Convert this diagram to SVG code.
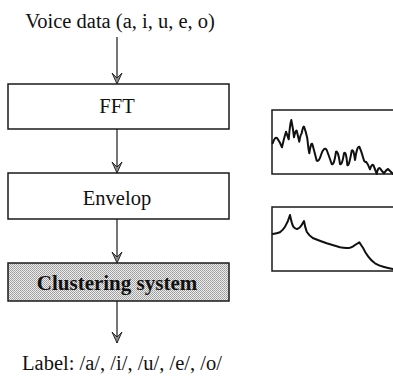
<svg xmlns="http://www.w3.org/2000/svg" width="393" height="376" viewBox="0 0 393 376">
  <defs>
    <style>
      .box { fill: #ffffff; stroke: #1a1a1a; stroke-width: 1.5; }
      .lbl { font-family: "Liberation Serif", "Times New Roman", serif; font-size: 20.5px; fill: #111; text-anchor: middle; }
      .bold { font-weight: bold; }
      .wire { stroke: #1a1a1a; stroke-width: 1.2; fill: none; }
      .plot { fill: #ffffff; stroke: #1a1a1a; stroke-width: 1.5; }
      .curve { fill: none; stroke: #111; stroke-width: 2; stroke-linejoin: round; stroke-linecap: round; }
    </style>
    <pattern id="dither" width="2" height="2" patternUnits="userSpaceOnUse">
      <rect width="2" height="2" fill="#eeeeee"/>
      <rect width="1" height="1" fill="#9a9a9a"/>
      <rect x="1" y="1" width="1" height="1" fill="#a6a6a6"/>
    </pattern>
    <marker id="head" viewBox="-12 -6 13 12" refX="0" refY="0" markerWidth="13" markerHeight="12" markerUnits="userSpaceOnUse" orient="auto">
      <path d="M0,0 L-11,-5 L-6,0 L-11,5 Z" fill="#8c8c8c" stroke="#1a1a1a" stroke-width="0.9" stroke-linejoin="miter"/>
    </marker>
  </defs>

  <!-- input label -->
  <text class="lbl" x="120" y="28">Voice data (a, i, u, e, o)</text>

  <!-- processing chain -->
  <g id="fft">
    <rect class="box" x="8" y="84" width="221" height="45"/>
    <text class="lbl" x="117" y="113">FFT</text>
  </g>
  <g id="envelop">
    <rect class="box" x="8" y="173" width="221" height="46"/>
    <text class="lbl" x="117" y="205">Envelop</text>
  </g>
  <g id="clustering">
    <rect class="box" x="8" y="263" width="221" height="38" style="fill:url(#dither)"/>
    <text class="lbl bold" x="117" y="290" style="font-size:21px">Clustering system</text>
  </g>

  <!-- output label -->
  <text class="lbl" x="122" y="370">Label: /a/, /i/, /u/, /e/, /o/</text>

  <!-- connectors -->
  <g id="connectors">
    <line class="wire" x1="117" y1="37" x2="117" y2="84" marker-end="url(#head)"/>
    <line class="wire" x1="117" y1="129" x2="117" y2="173" marker-end="url(#head)"/>
    <line class="wire" x1="117" y1="219" x2="117" y2="263" marker-end="url(#head)"/>
    <line class="wire" x1="117" y1="301" x2="117" y2="343" marker-end="url(#head)"/>
  </g>

  <!-- spectrum plot -->
  <g id="spectrum">
    <path class="plot" d="M395,110 L272,110 L272,174 L395,174"/>
    <path class="curve" d="M272.7,143.3 Q275,136 277.3,138.3 Q280,142 282,147.3 Q284,138 286,131.7 Q287.5,136 288.7,139.3 Q290,124 291.3,120 Q293,128 294,137.3 Q295.5,130 296.7,130.7 Q298,136 299.3,141.7 Q300.5,134 301.7,133.3 Q303,126 304,126.7 Q306,132 307.3,138.3 Q308.5,150 309.3,153.3 Q311,142 312.3,144 Q314,150 316.7,160.7 Q319,162 321,155 Q324,146 326.7,150 Q329,156 331.7,164 Q334,166 336,151.7 Q338,150 340,164 Q342,166 344,153.3 Q346,150 347.3,165 Q349,167 351.7,150.7 Q353.5,148 355,160 Q357,146 359.3,146.7 Q361,150 363.3,158.3 Q364.5,163 366,161.7 Q368,164 370,169.3 Q371.5,164 373.3,165 Q375,169 376.7,174 Q378,167 380,168.3 Q382,171 384,173.3 Q386,170 388,169 Q390,171 393,174"/>
  </g>

  <!-- envelope plot -->
  <g id="envelope">
    <path class="plot" d="M395,207 L272,207 L272,271 L395,271"/>
    <path class="curve" d="M272.7,234 Q277,233.5 280,232.3 Q283,230 285,226.7 Q288,222 290,215 Q291.5,223 293.3,226.7 Q295.5,229.5 297.3,229 Q300,228 301.7,225 L304,221 Q305,227 306.7,231.7 Q309,235.5 313.3,238.3 Q320,241 326.7,243.3 Q334,245.5 340,247.3 Q346,248.5 350,247.7 Q353,247 355,245 L359.3,242.3 Q361,245 363.3,248.3 Q365.5,253 368.3,256.7 Q371,260.5 375,263.3 Q379,265.5 383.3,266.7 Q388,268 393,269"/>
  </g>
</svg>
